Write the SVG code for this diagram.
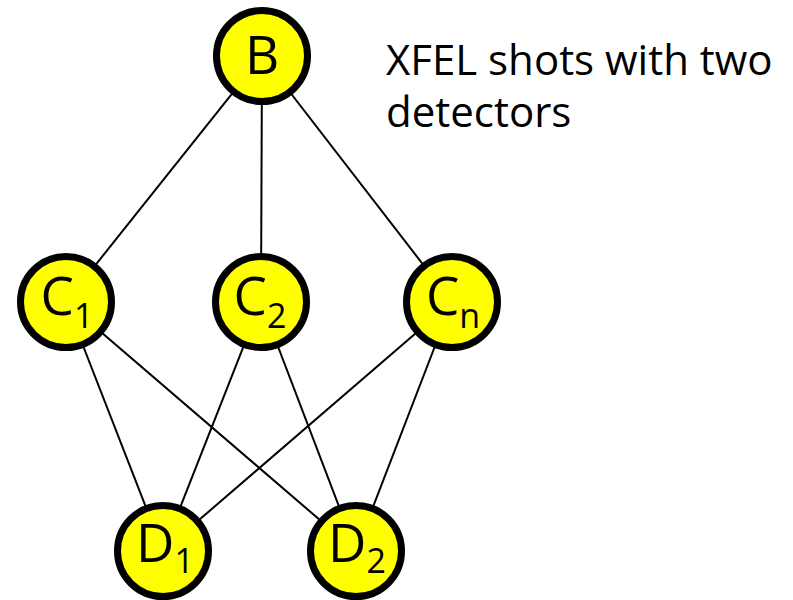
<svg xmlns="http://www.w3.org/2000/svg" width="793" height="600" viewBox="0 0 793 600">
  <style>
    .edge { stroke: #000; stroke-width: 2; fill: none; }
    .node circle { fill: #ffff00; stroke: #000; stroke-width: 7; }
    .lbl { font-family: "Open Sans", "Liberation Sans", sans-serif; fill: #000; text-anchor: middle; }
    .main { font-size: 53px; }
    .sub { font-size: 34px; }
    .title { font-family: "Open Sans", "Liberation Sans", sans-serif; font-size: 42px; fill: #000; }
  </style>
  <rect width="793" height="600" fill="#fff"/>

  <!-- connectors between node centres; circles are drawn on top -->
  <g id="connectors">
    <line class="edge" x1="262" y1="56" x2="66" y2="302"/>
    <line class="edge" x1="262" y1="56" x2="261" y2="302"/>
    <line class="edge" x1="262" y1="56" x2="452" y2="302"/>
    <line class="edge" x1="66" y1="302" x2="163" y2="551"/>
    <line class="edge" x1="66" y1="302" x2="356" y2="551"/>
    <line class="edge" x1="261" y1="302" x2="163" y2="551"/>
    <line class="edge" x1="261" y1="302" x2="356" y2="551"/>
    <line class="edge" x1="452" y1="302" x2="163" y2="551"/>
    <line class="edge" x1="452" y1="302" x2="356" y2="551"/>
  </g>

  <g id="node-B" class="node">
    <circle cx="262" cy="56" r="45.5"/>
    <text class="lbl main" x="262" y="74">B</text>
  </g>
  <g id="node-C1" class="node">
    <circle cx="66" cy="302" r="45.5"/>
    <text class="lbl" x="67" y="315"><tspan class="main">C</tspan><tspan class="sub" dy="13">1</tspan></text>
  </g>
  <g id="node-C2" class="node">
    <circle cx="261" cy="302" r="45.5"/>
    <text class="lbl" x="260" y="315"><tspan class="main">C</tspan><tspan class="sub" dy="13">2</tspan></text>
  </g>
  <g id="node-Cn" class="node">
    <circle cx="452" cy="302" r="45.5"/>
    <text class="lbl" x="453" y="315"><tspan class="main">C</tspan><tspan class="sub" dy="13">n</tspan></text>
  </g>
  <g id="node-D1" class="node">
    <circle cx="163" cy="551" r="45.5"/>
    <text class="lbl" x="165" y="562"><tspan class="main">D</tspan><tspan class="sub" dy="11">1</tspan></text>
  </g>
  <g id="node-D2" class="node">
    <circle cx="356" cy="551" r="45.5"/>
    <text class="lbl" x="357" y="562"><tspan class="main">D</tspan><tspan class="sub" dy="11">2</tspan></text>
  </g>

  <g id="caption">
    <text class="title" x="386" y="75">XFEL shots with two</text>
    <text class="title" x="386" y="127">detectors</text>
  </g>
</svg>
